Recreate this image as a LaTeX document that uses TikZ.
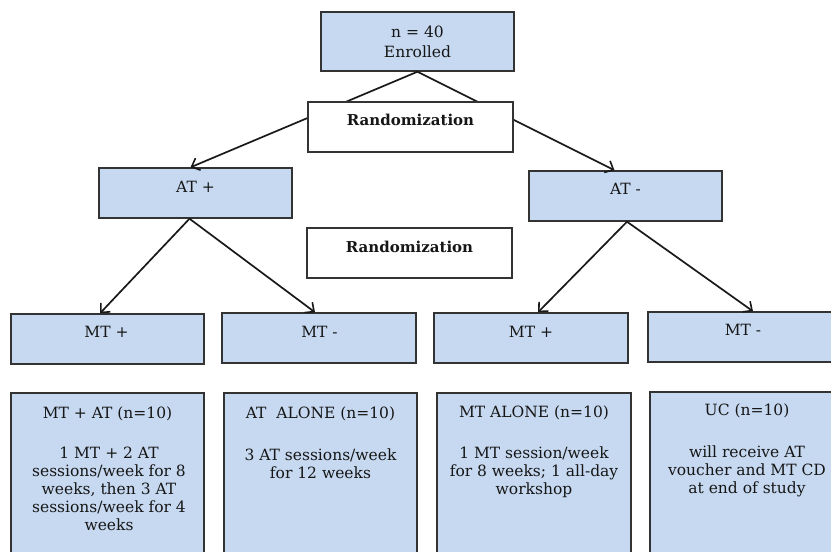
\documentclass[tikz,border=0pt]{standalone}
\usepackage{fontspec}
\setmainfont{DejaVu Serif}
\usetikzlibrary{arrows.meta}
\definecolor{boxblue}{HTML}{C6D9F1}
\definecolor{edgegray}{HTML}{333333}
\definecolor{txt}{HTML}{161616}
\begin{document}
\begin{tikzpicture}[x=1pt,y=-1pt,
  box/.style={draw=edgegray,line width=1.4pt,fill=boxblue,inner sep=0pt},
  wbox/.style={draw=edgegray,line width=1.4pt,fill=white,inner sep=0pt},
  lbl/.style={font=\fontsize{15.5}{18}\selectfont,text=txt,align=center,inner sep=0pt},
  blbl/.style={lbl,font=\fontsize{15}{18}\selectfont\bfseries},
  conn/.style={line width=1.7pt,draw=black!90},
  arr/.style={conn,-{Straight Barb[length=7pt,width=13pt,line width=1.6pt]}}]
\clip (0,0) rectangle (831,552);
\fill[white] (0,0) rectangle (831,552);
% boxes
\node[box,minimum width=193pt,minimum height=59pt] (enr) at (417.5,41.5) {};
\node[box,minimum width=193pt,minimum height=50pt] (atp) at (195.5,193) {};
\node[box,minimum width=193pt,minimum height=50pt] (atm) at (625.5,196) {};
\node[box,minimum width=193pt,minimum height=50pt] (mtp1) at (107.5,339) {};
\node[box,minimum width=194pt,minimum height=50pt] (mtm1) at (319,338) {};
\node[box,minimum width=194pt,minimum height=50pt] (mtp2) at (531,338) {};
\node[box,minimum width=190pt,minimum height=50pt] (mtm2) at (743,337) {};
\node[box,minimum width=193pt,minimum height=180pt] (b1) at (107.5,483) {};
\node[box,minimum width=193pt,minimum height=180pt] (b2) at (320.5,483) {};
\node[box,minimum width=194pt,minimum height=180pt] (b3) at (534,483) {};
\node[box,minimum width=194pt,minimum height=180pt] (b4) at (747,482) {};
% connectors
\draw[arr] (enr.south) -- ([xshift=-5pt]atp.north);
\draw[arr] (enr.south) -- ([xshift=-11pt]atm.north);
\draw[arr] ([xshift=-6pt]atp.south) -- ([xshift=-7.5pt]mtp1.north);
\draw[arr] ([xshift=-6pt]atp.south) -- ([xshift=-4pt]mtm1.north);
\draw[arr] ([xshift=1.5pt]atm.south) -- ([xshift=7pt]mtp2.north);
\draw[arr] ([xshift=1.5pt]atm.south) -- ([xshift=10pt]mtm2.north);
% randomization boxes on top
\node[wbox,minimum width=205pt,minimum height=50pt] (rand1) at (410.5,127) {};
\node[wbox,minimum width=205pt,minimum height=50pt] (rand2) at (409.5,253) {};
% texts
\node[lbl,font=\fontsize{15.5}{20}\selectfont] (enrT) at (417.5,42) {n = 40\\Enrolled};
\node[blbl] (rand1T) at (410.5,120) {Randomization};
\node[blbl] (rand2T) at (409.5,247) {Randomization};
\node[lbl] (atpT) at (195.5,187) {AT +};
\node[lbl] (atmT) at (625.5,189) {AT -};
\node[lbl] (mtp1T) at (106.5,332) {MT +};
\node[lbl] (mtm1T) at (319.5,332) {MT -};
\node[lbl] (mtp2T) at (531,332) {MT +};
\node[lbl] (mtm2T) at (743,330) {MT -};
\node[lbl,anchor=north] (b1T) at (107.5,407) {MT + AT (n=10)};
\node[lbl,anchor=north] (b2T) at (320.5,407) {AT\ \ ALONE (n=10)};
\node[lbl,anchor=north] (b3T) at (534,406) {MT ALONE (n=10)};
\node[lbl,anchor=north] (b4T) at (747,404) {UC (n=10)};
\node[lbl,anchor=north] (b1B) at (109,447) {1 MT + 2 AT\\sessions/week for 8\\weeks, then 3 AT\\sessions/week for 4\\weeks};
\node[lbl,anchor=north] (b2B) at (320.5,449) {3 AT sessions/week\\for 12 weeks};
\node[lbl,anchor=north] (b3B) at (534,447) {1 MT session/week\\for 8 weeks; 1 all-day\\workshop};
\node[lbl,anchor=north] (b4B) at (747,446) {will receive AT\\voucher and MT CD\\at end of study};
\end{tikzpicture}
\end{document}
